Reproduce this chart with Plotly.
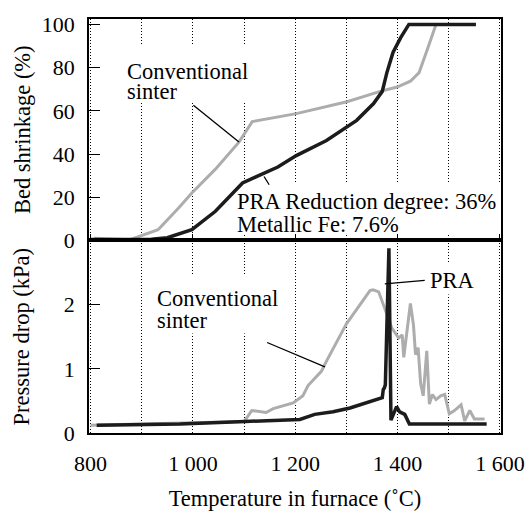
import plotly.graph_objects as go

# ---------------- data ----------------
# Upper panel: bed shrinkage (%)
conv_T_shrink = [807, 876, 932, 972, 998, 1044, 1090, 1116, 1202, 1301, 1366, 1399, 1425, 1442, 1458, 1475, 1553]
conv_shrink = [1.0, 0.3, 5, 15, 22, 33, 45.5, 55, 58.7, 64.2, 69, 71, 73.7, 77.7, 88.4, 100, 100]
pra_T_shrink = [800, 880, 919, 950, 998, 1044, 1097, 1123, 1166, 1202, 1261, 1320, 1353, 1370, 1379, 1391, 1406, 1422, 1553]
pra_shrink = [0.5, 0.3, 0.6, 1.3, 5, 13.5, 26.6, 29.4, 34, 39.3, 46.3, 55.6, 63.4, 69, 77.7, 87, 93.9, 100, 100]

# Lower panel: pressure drop (kPa)
conv_T_dp = [800, 1100, 1102, 1115, 1143, 1157, 1196, 1215, 1225, 1251, 1261, 1300, 1346, 1352, 1363,
             1376, 1383, 1389, 1402, 1409, 1412, 1425, 1431, 1435, 1440, 1445, 1450, 1457, 1462, 1468,
             1475, 1484, 1492, 1501, 1511, 1524, 1531, 1541, 1550, 1570]
conv_dp = [0.12, 0.18, 0.2, 0.35, 0.32, 0.38, 0.47, 0.58, 0.74, 0.96, 1.12, 1.70, 2.22, 2.23, 2.2,
           1.9, 1.75, 1.63, 1.48, 1.53, 1.18, 2.02, 1.68, 1.22, 1.33, 0.77, 0.58, 1.28, 0.45, 0.6,
           0.52, 0.58, 0.6, 0.3, 0.35, 0.44, 0.19, 0.35, 0.22, 0.22]
pra_T_dp = [812, 975, 1102, 1209, 1238, 1274, 1307, 1352, 1370, 1372, 1374, 1376, 1383, 1387, 1393,
            1398, 1404, 1414, 1423, 1574]
pra_dp = [0.12, 0.14, 0.18, 0.21, 0.29, 0.33, 0.39, 0.51, 0.55, 0.68, 0.7, 0.75, 2.88, 0.2, 0.3,
          0.41, 0.33, 0.29, 0.14, 0.14]

x_tickvals = [800, 1000, 1200, 1400, 1600]
x_ticktext = ["800", "1 000", "1 200", "1 400", "1 600"]
shrink_ticks = [0, 20, 40, 60, 80, 100]
dp_ticks = [0, 1, 2]

GRAY = "#adadad"
BLACK = "#1c1c1c"
FONT = "Liberation Serif"
FS = 22
FS_TXT = 22.5

fig = go.Figure()
fig.add_trace(go.Scatter(x=conv_T_shrink, y=conv_shrink, mode="lines", line=dict(color=GRAY, width=3),
                         xaxis="x", yaxis="y", name="Conventional sinter", showlegend=False))
fig.add_trace(go.Scatter(x=pra_T_shrink, y=pra_shrink, mode="lines", line=dict(color=BLACK, width=3.5),
                         xaxis="x", yaxis="y", name="PRA", showlegend=False))
fig.add_trace(go.Scatter(x=conv_T_dp, y=conv_dp, mode="lines", line=dict(color=GRAY, width=3),
                         xaxis="x2", yaxis="y2", name="Conventional sinter", showlegend=False))
fig.add_trace(go.Scatter(x=pra_T_dp, y=pra_dp, mode="lines", line=dict(color=BLACK, width=3.5),
                         xaxis="x2", yaxis="y2", name="PRA", showlegend=False))

xrange = [797, 1602]
grid_common = dict(gridcolor="black", gridwidth=1, griddash="1px,2px")
minor = dict(tickmode="linear", tick0=800, dtick=100, showgrid=True, ticks="", **grid_common)

fig.update_layout(
    width=528, height=511,
    margin=dict(l=89, r=27, t=19, b=78),
    paper_bgcolor="white", plot_bgcolor="white",
    font=dict(family=FONT, size=FS, color="black"),
    xaxis=dict(domain=[0, 1], anchor="y", range=xrange, tickmode="array", tickvals=x_tickvals,
               showticklabels=False, ticks="inside", ticklen=7, tickwidth=1.2, tickcolor="black",
               showline=True, linecolor="black", linewidth=1.6, mirror=True, automargin=False,
               showgrid=True, minor=minor, zeroline=False, **grid_common),
    yaxis=dict(domain=[0.465, 1], anchor="x", range=[0, 102.5], tickmode="array", tickvals=shrink_ticks,
               ticks="inside", ticklen=11, tickwidth=1.2, tickcolor="black",
               tickfont=dict(family=FONT, size=FS), automargin=False,
               showline=True, linecolor="black", linewidth=1.6, mirror=True,
               showgrid=False, zeroline=False, ticklabelstandoff=8,
               title=dict(text="Bed shrinkage (%)", font=dict(family=FONT, size=FS_TXT), standoff=5)),
    xaxis2=dict(domain=[0, 1], anchor="y2", range=xrange, matches="x", tickmode="array",
                tickvals=x_tickvals, ticktext=x_ticktext, ticks="", ticklabelstandoff=10,
                tickfont=dict(family=FONT, size=FS), automargin=False,
                showline=True, linecolor="black", linewidth=1.6, mirror=True,
                showgrid=True, minor=minor, zeroline=False,
                title=dict(text="Temperature in furnace (˚C)", font=dict(family=FONT, size=FS_TXT),
                           standoff=18),
                **grid_common),
    yaxis2=dict(domain=[0, 0.465], anchor="x2", range=[0, 3], tickmode="array", tickvals=dp_ticks,
                ticks="inside", ticklen=11, tickwidth=1.2, tickcolor="black",
                tickfont=dict(family=FONT, size=FS), automargin=False,
                showline=True, linecolor="black", linewidth=1.6, mirror=True,
                showgrid=False, zeroline=False, ticklabelstandoff=8,
                title=dict(text="Pressure drop (kPa)", font=dict(family=FONT, size=FS_TXT), standoff=28)),
)

# white boxes behind the labels (hide the dotted grid there, stay under the curves)
boxes = [
    ("x", "y", 865, 63.7, 1106, 90.5),
    ("x", "y", 1080, 2.8, 1602, 26.3),
    ("x2", "y2", 914, 1.55, 1170, 2.47),
    ("x2", "y2", 1453, 2.16, 1551, 2.66),
]
for xr, yr, x0, y0, x1, y1 in boxes:
    fig.add_shape(type="rect", xref=xr, yref=yr, x0=x0, y0=y0, x1=x1, y1=y1,
                  fillcolor="white", line=dict(width=0), layer="between")


def label(text, x, y, xref, yref):
    fig.add_annotation(text=text, x=x, y=y, xref=xref, yref=yref, showarrow=False,
                       xanchor="left", yanchor="middle", borderpad=0,
                       font=dict(family=FONT, size=FS_TXT, color="black"))


label("Conventional", 869, 78.0, "x", "y")
label("sinter", 869, 68.8, "x", "y")
label("PRA Reduction degree: 36%", 1085, 18.0, "x", "y")
label("Metallic Fe: 7.6%", 1085, 7.6, "x", "y")
label("Conventional", 927, 2.10, "x2", "y2")
label("sinter", 927, 1.76, "x2", "y2")
label("PRA", 1461, 2.38, "x2", "y2")

leaders = [
    ("x", "y", 1001, 62.6, 1090, 45.6),
    ("x", "y", 1139, 29.6, 1149, 25.8),
    ("x2", "y2", 1145, 1.41, 1258, 1.03),
    ("x2", "y2", 1375, 2.325, 1453, 2.38),
]
for xr, yr, x0, y0, x1, y1 in leaders:
    fig.add_shape(type="line", xref=xr, yref=yr, x0=x0, y0=y0, x1=x1, y1=y1,
                  line=dict(color="black", width=1.3))

fig.write_html("out.html")
